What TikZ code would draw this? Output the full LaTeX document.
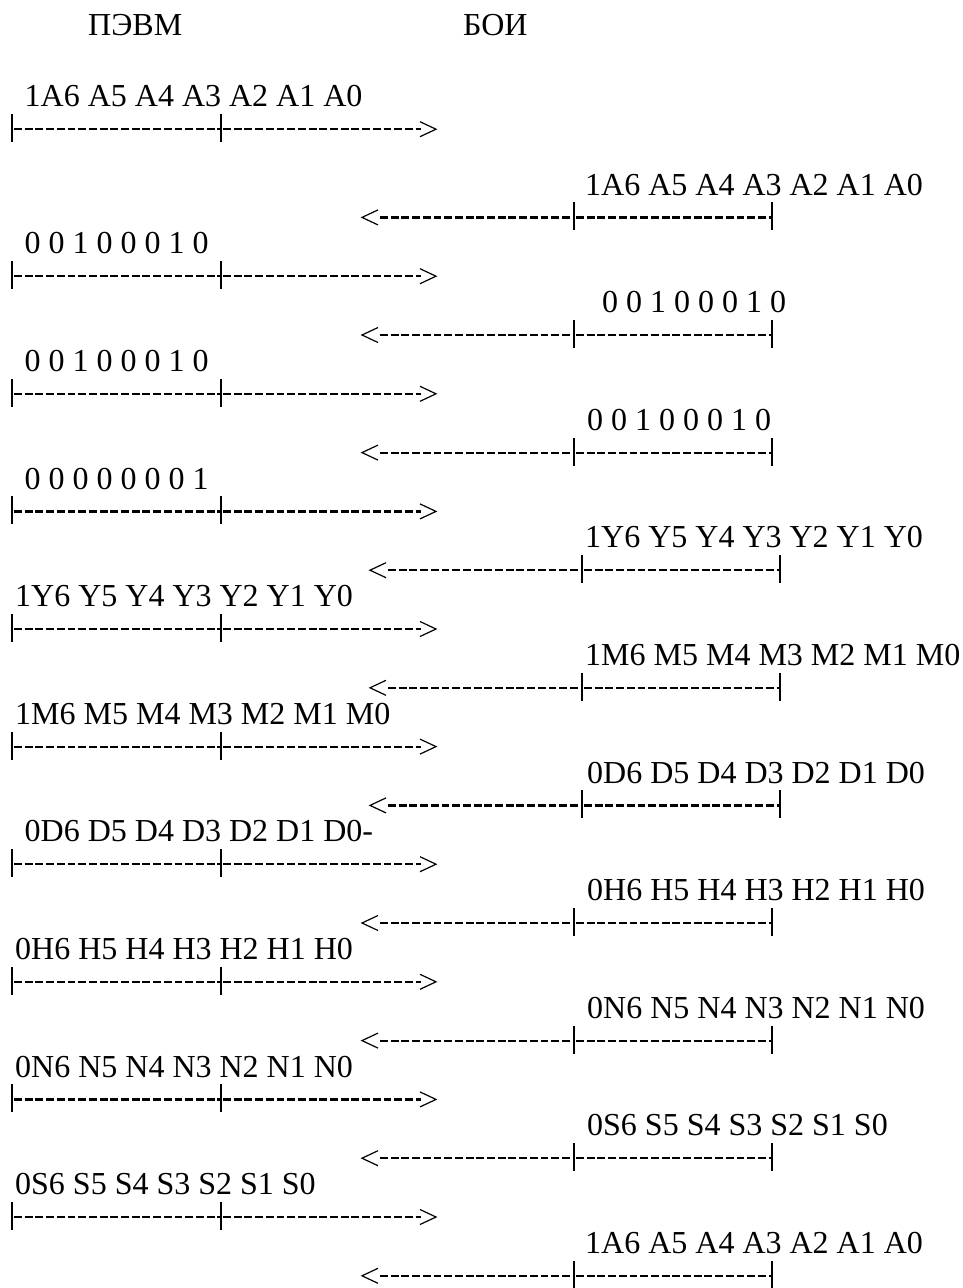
\documentclass[tikz,border=0pt]{standalone}
\usepackage{fontspec}
\setmainfont{Liberation Serif}
\newcommand\LRow[2]{%
  \pgfmathsetmacro\dy{106.8+29.4*#1-7}%
  \coordinate (#2a) at (12,\dy);
  \coordinate (#2b) at (221,\dy);
  \coordinate (#2c) at (436,\dy);
  \draw[barline] ([yshift=15bp]#2a) -- ([yshift=-13bp]#2a);
  \draw[barline] ([yshift=15bp]#2b) -- ([yshift=-13bp]#2b);
  \draw[dashline] ([xshift=2bp]#2a) -- ([xshift=-1.5bp]#2b);
  \draw[dashline] ([xshift=2bp]#2b) -- ([xshift=-15bp]#2c);
  \draw[chev] ([shift={(-16bp,7.5bp)}]#2c) -- (#2c) -- ([shift={(-16bp,-7.5bp)}]#2c);
}
\newcommand\RRow[3]{%
  \pgfmathsetmacro\dy{106.8+29.4*#1-7}%
  \coordinate (#2a) at (362+#3,\dy);
  \coordinate (#2b) at (574+#3,\dy);
  \coordinate (#2c) at (772+#3,\dy);
  \draw[chev] ([shift={(16bp,7.5bp)}]#2a) -- (#2a) -- ([shift={(16bp,-7.5bp)}]#2a);
  \draw[dashline] ([xshift=18bp]#2a) -- ([xshift=-1.5bp]#2b);
  \draw[dashline] ([xshift=2bp]#2b) -- ([xshift=-1.5bp]#2c);
  \draw[barline] ([yshift=15bp]#2b) -- ([yshift=-13bp]#2b);
  \draw[barline] ([yshift=15bp]#2c) -- ([yshift=-13bp]#2c);
}
\begin{document}
\begin{tikzpicture}[x=1bp,y=-1bp,
  lbl/.style={anchor=base west,inner sep=0pt,font=\fontsize{32bp}{32bp}\selectfont},
  barline/.style={line width=1.2bp},
  dashline/.style={line width=2.2bp,dash pattern=on 7.9bp off 2.8bp},
  chev/.style={line width=1.2bp}]
\fill[white] (0,0) rectangle (963,1288);
\useasboundingbox (0,0) rectangle (963,1288);
% titles
\node[lbl] (pc) at (88,35) {ПЭВМ};
\node[lbl] (boi) at (463,35) {БОИ};
% left labels
\node[lbl] (l0) at (24.5,{106.8+29.4*0}) {1A6 A5 A4 A3 A2 A1 A0};
\node[lbl] (l5) at (24.5,{106.8+29.4*5}) {0 0 1 0 0 0 1 0};
\node[lbl] (l9) at (24.5,{106.8+29.4*9}) {0 0 1 0 0 0 1 0};
\node[lbl] (l13) at (24.5,{106.8+29.4*13}) {0 0 0 0 0 0 0 1};
\node[lbl] (l17) at (15,{106.8+29.4*17}) {1Y6 Y5 Y4 Y3 Y2 Y1 Y0};
\node[lbl] (l21) at (15,{106.8+29.4*21}) {1M6 M5 M4 M3 M2 M1 M0};
\node[lbl] (l25) at (24.5,{106.8+29.4*25}) {0D6 D5 D4 D3 D2 D1 D0-};
\node[lbl] (l29) at (15,{106.8+29.4*29}) {0H6 H5 H4 H3 H2 H1 H0};
\node[lbl] (l33) at (15,{106.8+29.4*33}) {0N6 N5 N4 N3 N2 N1 N0};
\node[lbl] (l37) at (15,{106.8+29.4*37}) {0S6 S5 S4 S3 S2 S1 S0};
% right labels
\node[lbl] (r3) at (585,{106.8+29.4*3}) {1A6 A5 A4 A3 A2 A1 A0};
\node[lbl] (r7) at (602,{106.8+29.4*7}) {0 0 1 0 0 0 1 0};
\node[lbl] (r11) at (587,{106.8+29.4*11}) {0 0 1 0 0 0 1 0};
\node[lbl] (r15) at (585,{106.8+29.4*15}) {1Y6 Y5 Y4 Y3 Y2 Y1 Y0};
\node[lbl] (r19) at (585,{106.8+29.4*19}) {1M6 M5 M4 M3 M2 M1 M0};
\node[lbl] (r23) at (587,{106.8+29.4*23}) {0D6 D5 D4 D3 D2 D1 D0};
\node[lbl] (r27) at (587,{106.8+29.4*27}) {0H6 H5 H4 H3 H2 H1 H0};
\node[lbl] (r31) at (587,{106.8+29.4*31}) {0N6 N5 N4 N3 N2 N1 N0};
\node[lbl] (r35) at (587,{106.8+29.4*35}) {0S6 S5 S4 S3 S2 S1 S0};
\node[lbl] (r39) at (585,{106.8+29.4*39}) {1A6 A5 A4 A3 A2 A1 A0};
% left lines (PC -> BOI)
\LRow{1}{la}
\LRow{6}{lb}
\LRow{10}{lc}
\LRow{14}{ld}
\LRow{18}{le}
\LRow{22}{lf}
\LRow{26}{lg}
\LRow{30}{lh}
\LRow{34}{li}
\LRow{38}{lj}
% right lines (BOI -> PC)
\RRow{4}{ra}{0}
\RRow{8}{rb}{0}
\RRow{12}{rc}{0}
\RRow{16}{rd}{8}
\RRow{20}{re}{8}
\RRow{24}{rf}{8}
\RRow{28}{rg}{0}
\RRow{32}{rh}{0}
\RRow{36}{ri}{0}
\RRow{40}{rj}{0}
\end{tikzpicture}
\end{document}
